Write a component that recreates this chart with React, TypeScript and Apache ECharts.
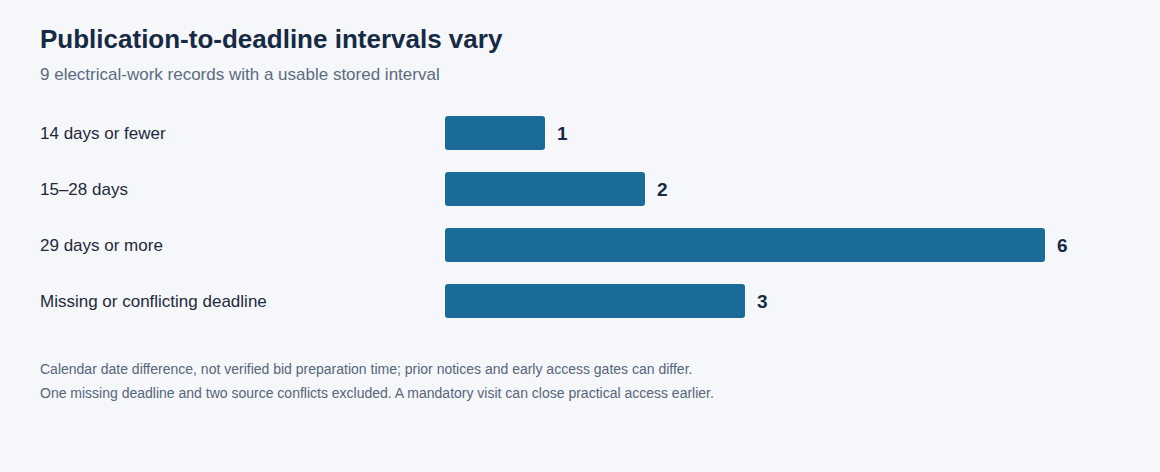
import React, { useEffect, useRef } from "react";
import * as echarts from "echarts";

const title = "Publication-to-deadline intervals vary";
const subtitle = "9 electrical-work records with a usable stored interval";
const categories = [
  "14 days or fewer",
  "15–28 days",
  "29 days or more",
  "Missing or conflicting deadline",
];
const counts = [1, 2, 6, 3];
const notes = [
  "Calendar date difference, not verified bid preparation time; prior notices and early access gates can differ.",
  "One missing deadline and two source conflicts excluded. A mandatory visit can close practical access earlier.",
];

const FONT = "'Liberation Sans', Arial, Helvetica, sans-serif";
const BG = "#f6f7fb";

export default function App() {
  const ref = useRef<HTMLDivElement>(null);
  useEffect(() => {
    document.body.style.margin = "0";
    document.body.style.background = BG;
    if (!ref.current) return;
    const chart = echarts.init(ref.current, null, { renderer: "svg" });
    chart.setOption({
      animation: false,
      backgroundColor: BG,
      textStyle: { fontFamily: FONT },
      grid: { left: 445, right: 115, top: 105, height: 224 },
      xAxis: {
        type: "value",
        min: 0,
        max: 6,
        show: false,
      },
      yAxis: {
        type: "category",
        data: categories,
        inverse: true,
        axisLine: { show: false },
        axisTick: { show: false },
        splitLine: { show: false },
        axisLabel: {
          align: "left",
          margin: 405,
          fontSize: 17,
          color: "#1d2a3b",
          fontFamily: FONT,
        },
      },
      series: [
        {
          type: "bar",
          data: counts,
          barWidth: 34,
          itemStyle: { color: "#1a6b9a", borderRadius: 3 },
          label: {
            show: true,
            position: "right",
            distance: 12,
            fontSize: 19,
            fontWeight: "bold",
            color: "#172a44",
            fontFamily: FONT,
          },
        },
      ],
      graphic: [
        {
          type: "text",
          left: 40,
          top: 26,
          style: {
            text: title,
            font: `bold 26px ${FONT}`,
            fill: "#172a44",
          },
        },
        {
          type: "text",
          left: 40,
          top: 66,
          style: {
            text: subtitle,
            font: `17px ${FONT}`,
            fill: "#5b6b80",
          },
        },
        ...notes.map((t, i) => ({
          type: "text",
          left: 40,
          top: 362 + i * 24,
          style: {
            text: t,
            font: `14px ${FONT}`,
            fill: "#55657a",
          },
        })),
      ],
    });
    return () => chart.dispose();
  }, []);
  return <div ref={ref} style={{ width: 1160, height: 472 }} />;
}
